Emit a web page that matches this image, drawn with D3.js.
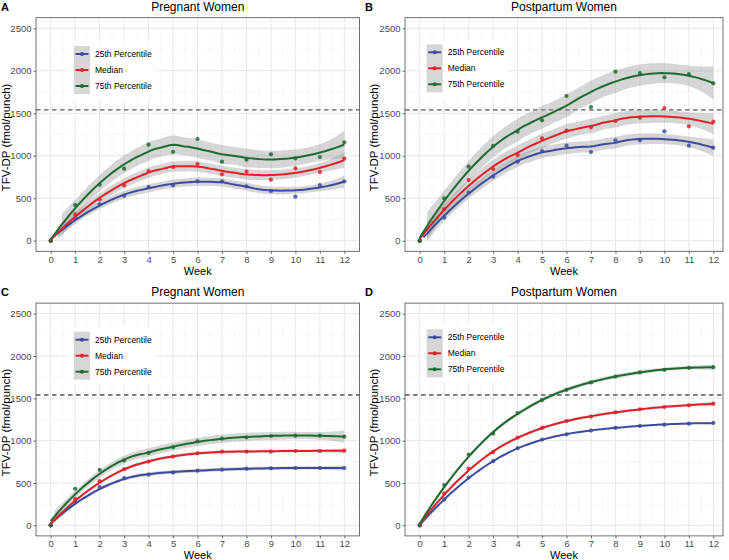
<!DOCTYPE html>
<html><head><meta charset="utf-8">
<script src="https://cdn.jsdelivr.net/npm/d3@7"></script>
<style>
body{margin:0;background:#fff}
svg{display:block}
text{font-family:"Liberation Sans",Arial,Helvetica,sans-serif}
</style></head>
<body><svg id="chart" width="729" height="560"></svg>
<script>
// ---------------- data ----------------
const weeks = [0,1,2,3,4,5,6,7,8,9,10,11,12];
const seriesNames = ["25th Percentile","Median","75th Percentile"];
const seriesColors = ["#3d4b9f","#e2202a","#1f6a31"];
const yTicks = [0,500,1000,1500,2000,2500];
const threshold = 1540;

// Panel A: pregnant women, observed percentiles
const pregObs25  = [0,270,428,530,632,652,699,699,640,585,518,655,699];
const pregObsMed = [0,310,487,652,820,868,903,781,812,718,852,809,966];
const pregObs75  = [0,420,659,848,1130,1046,1197,930,954,1017,969,985,1158];
// Panel B: postpartum women, observed percentiles
const postObs25  = [0,271,565,754,930,1056,1119,1044,1181,1181,1287,1119,1095];
const postObsMed = [0,373,714,844,1009,1205,1295,1334,1409,1448,1562,1346,1401];
const postObs75  = [0,498,871,1115,1283,1417,1703,1574,1990,1974,1923,1962,1853];
// Panel C: pregnant women, modelled percentiles
const pregMod25  = [0,280,451,557,598,625,646,657,669,673,677,677,677];
const pregModMed = [0,314,522,663,753,812,850,870,870,870,878,878,882];
const pregMod75  = [0,432,655,767,855,922,992,1024,1039,1055,1059,1059,1047];
// Panel D: postpartum women, modelled percentiles
const postMod25  = [0,306,565,758,911,1013,1075,1119,1150,1174,1189,1201,1209];
const postModMed = [0,377,671,864,1036,1150,1232,1283,1335,1370,1397,1417,1437];
const postMod75  = [0,475,836,1083,1327,1480,1601,1688,1758,1806,1837,1860,1868];

const panelLetters = ["A","B","C","D"];
const panelTitles = ["Pregnant Women","Postpartum Women","Pregnant Women","Postpartum Women"];
const panelSeries = [
  [pregObs25,pregObsMed,pregObs75],
  [postObs25,postObsMed,postObs75],
  [pregMod25,pregModMed,pregMod75],
  [postMod25,postModMed,postMod75]
];

// ---------------- loess (span .75, degree 2) ----------------
function inv3(m){
  const [a,b,c]=m[0],[d,e,f]=m[1],[g,h,i]=m[2];
  const A=e*i-f*h,B=-(d*i-f*g),C=d*h-e*g;
  const det=a*A+b*B+c*C;
  return [[A/det,-(b*i-c*h)/det,(b*f-c*e)/det],
          [B/det,(a*i-c*g)/det,-(a*f-c*d)/det],
          [C/det,-(a*h-b*g)/det,(a*e-b*d)/det]];
}
function tq975(df){
  const z=1.959964,z3=z**3,z5=z**5,z7=z**7,z9=z**9;
  return z+(z3+z)/(4*df)+(5*z5+16*z3+3*z)/(96*df*df)
    +(3*z7+19*z5+17*z3-15*z)/(384*df**3)
    +(79*z9+776*z7+1482*z5-1920*z3-945*z)/(92160*df**4);
}
function loess(xs, ys, span, evalXs){
  const n=xs.length, q=Math.floor(n*span);
  const lrow = x0 => {
    const d=xs.map(x=>Math.abs(x-x0));
    const h=d.slice().sort((a,b)=>a-b)[q-1];
    const w=d.map(v=> v<h ? Math.pow(1-Math.pow(v/h,3),3) : 0);
    const M=[[0,0,0],[0,0,0],[0,0,0]];
    xs.forEach((x,i)=>{const u=x-x0,bs=[1,u,u*u];
      for(let a=0;a<3;a++)for(let b=0;b<3;b++)M[a][b]+=w[i]*bs[a]*bs[b];});
    const Mi=inv3(M);
    return xs.map((x,i)=>{const u=x-x0;return w[i]*(Mi[0][0]+Mi[0][1]*u+Mi[0][2]*u*u);});
  };
  const L=xs.map(lrow);
  const fit=L.map(r=>d3.sum(r,(l,j)=>l*ys[j]));
  const rss=d3.sum(ys,(y,i)=>(y-fit[i])**2);
  const IL=L.map((r,i)=>r.map((l,j)=>(i===j?1:0)-l));
  const Bm=[];
  for(let i=0;i<n;i++){Bm.push([]);for(let j=0;j<n;j++){let s=0;for(let k=0;k<n;k++)s+=IL[k][i]*IL[k][j];Bm[i].push(s);}}
  let d1=0,d2=0;
  for(let i=0;i<n;i++){d1+=Bm[i][i];for(let j=0;j<n;j++)d2+=Bm[i][j]*Bm[i][j];}
  const s=Math.sqrt(rss/d1), t=tq975(d1*d1/d2);
  return evalXs.map(x=>{const l=lrow(x);const f=d3.sum(l,(v,j)=>v*ys[j]);
    const se=s*Math.sqrt(d3.sum(l,v=>v*v));return {x,y:f,lo:f-t*se,hi:f+t*se};});
}

// ---------------- layout ----------------
const layouts = [
  {left:36,  right:359.5, top:17.7,  bottom:251.3, x0:50.7,  letterX:1,   letterY:10.5, titleY:11,   weekY:274.5, legX:74,    legY:46,    yTitleX:9.5},
  {left:405, right:723,   top:17.7,  bottom:251.3, x0:419.7, letterX:365, letterY:10.5, titleY:11,   weekY:274.5, legX:426.7, legY:44.3,  yTitleX:377.5},
  {left:36,  right:359.5, top:303.1, bottom:535.9, x0:50.7,  letterX:1,   letterY:295.5,titleY:295.5,weekY:558.5, legX:74,    legY:331.7, yTitleX:9.5},
  {left:405, right:723,   top:303.1, bottom:535.9, x0:419.7, letterX:365, letterY:296,  titleY:296,  weekY:558.5, legX:426.7, legY:329.3, yTitleX:377.5}
];
const pxPerWeek = 24.47;

const svg=d3.select("#chart");
svg.append("rect").attr("width",729).attr("height",560).attr("fill","#fff");

const evalXs=d3.range(80).map(i=>12*i/79);

layouts.forEach((L,pi)=>{
  const g=svg.append("g");
  const x=d3.scaleLinear().domain([0,12]).range([L.x0,L.x0+12*pxPerWeek]);
  const y=d3.scaleLinear().domain([-125,2625]).range([L.bottom,L.top]);
  const xMin=x.invert(L.left), xMax=x.invert(L.right);
  g.append("rect").attr("x",L.left).attr("y",L.top).attr("width",L.right-L.left).attr("height",L.bottom-L.top).attr("fill","#fff");
  // grid
  const xMinor=d3.range(-0.5,13,1).filter(v=>v>xMin&&v<xMax);
  const yMinor=[250,750,1250,1750,2250];
  g.selectAll(null).data(xMinor).enter().append("line").attr("x1",d=>x(d)).attr("x2",d=>x(d)).attr("y1",L.top).attr("y2",L.bottom).attr("stroke","#f3f3f3").attr("stroke-width",0.6);
  g.selectAll(null).data(yMinor).enter().append("line").attr("y1",d=>y(d)).attr("y2",d=>y(d)).attr("x1",L.left).attr("x2",L.right).attr("stroke","#f3f3f3").attr("stroke-width",0.6);
  g.selectAll(null).data(weeks).enter().append("line").attr("x1",d=>x(d)).attr("x2",d=>x(d)).attr("y1",L.top).attr("y2",L.bottom).attr("stroke","#e8e8e8").attr("stroke-width",1);
  g.selectAll(null).data(yTicks).enter().append("line").attr("y1",d=>y(d)).attr("y2",d=>y(d)).attr("x1",L.left).attr("x2",L.right).attr("stroke","#e8e8e8").attr("stroke-width",1);

  // threshold line
  g.append("line").attr("x1",L.left).attr("x2",L.right).attr("y1",y(threshold)).attr("y2",y(threshold))
    .attr("stroke","#555555").attr("stroke-width",1.4).attr("stroke-dasharray","4.5,3.5");

  const fits=panelSeries[pi].map(vals=>loess(weeks,vals,0.75,evalXs));
  const inb=v=>v>=0&&v<=2500;
  fits.forEach(f=>{
    g.append("path").datum(f).attr("fill","#999999").attr("fill-opacity",0.4)
      .attr("d",d3.area().defined(d=>inb(d.lo)&&inb(d.hi)).x(d=>x(d.x)).y0(d=>y(d.lo)).y1(d=>y(d.hi)));
  });
  panelSeries[pi].forEach((vals,si)=>{
    g.selectAll(null).data(weeks).enter().append("circle")
      .attr("cx",d=>x(d)).attr("cy",(d,i)=>y(vals[i])).attr("r",2.1)
      .attr("fill",seriesColors[si]).attr("fill-opacity",0.85);
  });
  fits.forEach((f,si)=>{
    g.append("path").datum(f).attr("fill","none").attr("stroke",seriesColors[si]).attr("stroke-width",2)
      .attr("d",d3.line().defined(d=>inb(d.y)).x(d=>x(d.x)).y(d=>y(d.y)));
  });

  g.append("rect").attr("x",L.left).attr("y",L.top).attr("width",L.right-L.left).attr("height",L.bottom-L.top)
    .attr("fill","none").attr("stroke","#4d4d4d").attr("stroke-width",0.8);

  // axes
  const xAxis=d3.axisBottom(x).tickValues(weeks).tickFormat(d3.format("d")).tickSize(2.5).tickPadding(2);
  const ax=g.append("g").attr("transform",`translate(0,${L.bottom})`).call(xAxis);
  const yAxis=d3.axisLeft(y).tickValues(yTicks).tickFormat(d3.format("d")).tickSize(2.5).tickPadding(2);
  const ay=g.append("g").attr("transform",`translate(${L.left},0)`).call(yAxis);
  [ax,ay].forEach(a=>{a.select(".domain").remove();
    a.selectAll(".tick line").attr("stroke","#4d4d4d").attr("stroke-width",0.8);
    a.selectAll(".tick text").attr("fill","#4d4d4d").style("font-size","9.5px").style("font-family","'Liberation Sans',Arial,sans-serif");});

  // titles
  g.append("text").attr("x",(L.left+L.right)/2).attr("y",L.titleY).attr("text-anchor","middle").style("font-size","12px").attr("fill","#000").text(panelTitles[pi]);
  g.append("text").attr("x",L.letterX).attr("y",L.letterY).style("font-size","11px").style("font-weight","bold").text(panelLetters[pi]);
  g.append("text").attr("x",(L.left+L.right)/2).attr("y",L.weekY).attr("text-anchor","middle").style("font-size","11px").text("Week");
  const yc=(L.top+L.bottom)/2+3;
  g.append("text").attr("transform",`translate(${L.yTitleX},${yc}) rotate(-90)`).attr("text-anchor","middle").style("font-size","11.5px").text("TFV-DP (fmol/punch)");

  // legend
  const lg=g.append("g").attr("transform",`translate(${L.legX},${L.legY})`);
  lg.append("rect").attr("x",-5).attr("y",-5).attr("width",86).attr("height",58).attr("fill","#fff");
  seriesNames.forEach((nm,si)=>{
    const cy=si*16+8;
    lg.append("rect").attr("x",0).attr("y",si*16).attr("width",16).attr("height",16).attr("fill","#999999").attr("fill-opacity",0.4);
    lg.append("line").attr("x1",1.5).attr("x2",14.5).attr("y1",cy).attr("y2",cy).attr("stroke",seriesColors[si]).attr("stroke-width",2);
    lg.append("circle").attr("cx",8).attr("cy",cy).attr("r",2).attr("fill",seriesColors[si]);
    lg.append("text").attr("x",21).attr("y",cy+3).style("font-size","8.5px").text(nm);
  });
});
</script></body></html>
